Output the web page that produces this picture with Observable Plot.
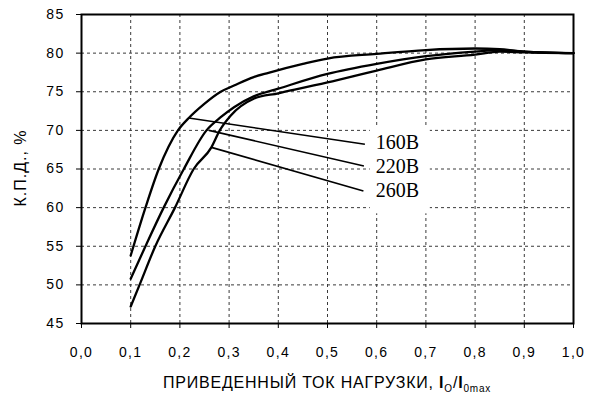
<!DOCTYPE html>
<html>
<head>
<meta charset="utf-8">
<script src="https://cdn.jsdelivr.net/npm/d3@7"></script>
<script src="https://cdn.jsdelivr.net/npm/@observablehq/plot@0.6"></script>
</head>
<body style="margin:0;background:#fff">
<div id="chart"></div>
<script>
// Series: load current I0/I0max vs efficiency (%), per input voltage
const load160 = [0.1, 0.13, 0.157, 0.196, 0.218, 0.249, 0.283, 0.31, 0.35, 0.38, 0.45, 0.5, 0.6, 0.7, 0.8, 0.85, 0.9, 1.0];
const eff160  = [53.8, 60, 65, 70, 71.6, 73.4, 75, 75.8, 76.9, 77.45, 78.6, 79.3, 79.9, 80.4, 80.6, 80.5, 80.2, 80.0];

const load220 = [0.1, 0.13, 0.167, 0.208, 0.254, 0.283, 0.31, 0.35, 0.4, 0.5, 0.6, 0.7, 0.8, 0.85, 0.9, 1.0];
const eff220  = [50.8, 55, 60, 65, 70, 71.7, 73, 74.4, 75.4, 77.3, 78.6, 79.6, 80.2, 80.4, 80.2, 80.0];

const load260 = [0.1, 0.118, 0.15, 0.19, 0.228, 0.264, 0.281, 0.303, 0.35, 0.4, 0.5, 0.6, 0.7, 0.8, 0.85, 0.9, 1.0];
const eff260  = [47.2, 50, 55, 60, 65, 67.8, 70, 71.9, 74.1, 74.8, 76.2, 77.75, 79.2, 79.8, 80.2, 80.1, 80.0];

const seriesNames = ["160В", "220В", "260В"];

// Annotation leader lines: curve point -> label point (data units)
const leaderFromX = [0.218, 0.259, 0.264];
const leaderFromY = [71.6, 70.0, 67.8];
const leaderToX   = [0.576, 0.574, 0.573];
const leaderToY   = [68.2, 65.4, 62.15];
const labelX      = [0.598, 0.598, 0.598];
const labelY      = [68.45, 65.25, 62.2];

// White box behind the labels (data units)
const boxX1 = [0.587], boxX2 = [0.709], boxY1 = [59.2], boxY2 = [70.6];

// Ticks
const xTicks = [0, 0.1, 0.2, 0.3, 0.4, 0.5, 0.6, 0.7, 0.8, 0.9, 1.0];
const yTicks = [45, 50, 55, 60, 65, 70, 75, 80, 85];
const xGrid = [0.1, 0.2, 0.3, 0.4, 0.5, 0.6, 0.7, 0.8, 0.9];
const yGrid = [50, 55, 60, 65, 70, 75, 80];

const curves = [];
[[load160, eff160], [load220, eff220], [load260, eff260]].forEach(([xs, ys], i) => {
  xs.forEach((x, j) => curves.push({series: seriesNames[i], load: x, eff: ys[j]}));
});
const leaders = seriesNames.map((s, i) => ({
  s, x1: leaderFromX[i], y1: leaderFromY[i], x2: leaderToX[i], y2: leaderToY[i]
}));
const labels = seriesNames.map((s, i) => ({s, x: labelX[i], y: labelY[i]}));
const box = boxX1.map((v, i) => ({bx1: v, bx2: boxX2[i], by1: boxY1[i], by2: boxY2[i]}));

const chart = Plot.plot({
  width: 595,
  height: 398,
  marginLeft: 81,
  marginRight: 22,
  marginTop: 14,
  marginBottom: 75,
  style: {fontFamily: "'Liberation Sans', Arial, sans-serif", fontSize: "14px"},
  x: {domain: [0, 1]},
  y: {domain: [45, 85]},
  marks: [
    Plot.ruleX(xGrid, {stroke: "#3a3a3a", strokeWidth: 1, strokeDasharray: "3 3"}),
    Plot.ruleY(yGrid, {stroke: "#3a3a3a", strokeWidth: 1, strokeDasharray: "3 3"}),
    Plot.rect(box, {x1: "bx1", x2: "bx2", y1: "by1", y2: "by2", fill: "white"}),
    Plot.line(curves, {x: "load", y: "eff", z: "series", curve: "monotone-x", stroke: "black", strokeWidth: 2.3}),
    Plot.link(leaders, {x1: "x1", y1: "y1", x2: "x2", y2: "y2", stroke: "black", strokeWidth: 1.6}),
    Plot.text(labels, {x: "x", y: "y", text: "s", textAnchor: "start", fontFamily: "'Liberation Serif', 'Times New Roman', serif", fontSize: 20, fill: "black"}),
    Plot.axisX(xTicks, {tickSize: 5, tickPadding: 19, tickFormat: d => d.toFixed(1).replace(".", ","), label: null}),
    Plot.axisY(yTicks, {tickSize: 5, tickPadding: 12, label: null}),
    Plot.frame({stroke: "black", strokeWidth: 2})
  ]
});
document.getElementById("chart").appendChild(chart);

const svg = d3.select(chart);
svg.selectAll('g[aria-label="x-axis tick label"] text, g[aria-label="y-axis tick label"] text')
  .style("letter-spacing", "1.3px");

// Y axis title
svg.append("text")
  .attr("transform", "translate(20,168) rotate(-90)")
  .attr("text-anchor", "middle")
  .attr("dy", "0.35em")
  .style("font-family", "'Liberation Sans', Arial, sans-serif")
  .style("font-size", "16px")
  .style("letter-spacing", "1px")
  .attr("fill", "black")
  .text("К.П.Д., %");

// X axis title with subscripts
const xt = svg.append("text")
  .attr("x", 327)
  .attr("y", 388)
  .attr("text-anchor", "middle")
  .style("font-family", "'Liberation Sans', Arial, sans-serif")
  .style("font-size", "16px")
  .style("letter-spacing", "0.8px")
  .attr("fill", "black");
xt.append("tspan").text("ПРИВЕДЕННЫЙ ТОК НАГРУЗКИ, ");
xt.append("tspan").style("font-weight", "bold").text("I");
xt.append("tspan").attr("dy", 4).style("font-size", "10px").text("O");
xt.append("tspan").attr("dy", -4).text("/");
xt.append("tspan").style("font-weight", "bold").text("I");
xt.append("tspan").attr("dy", 4).style("font-size", "10px").text("0max");
</script>
</body>
</html>
